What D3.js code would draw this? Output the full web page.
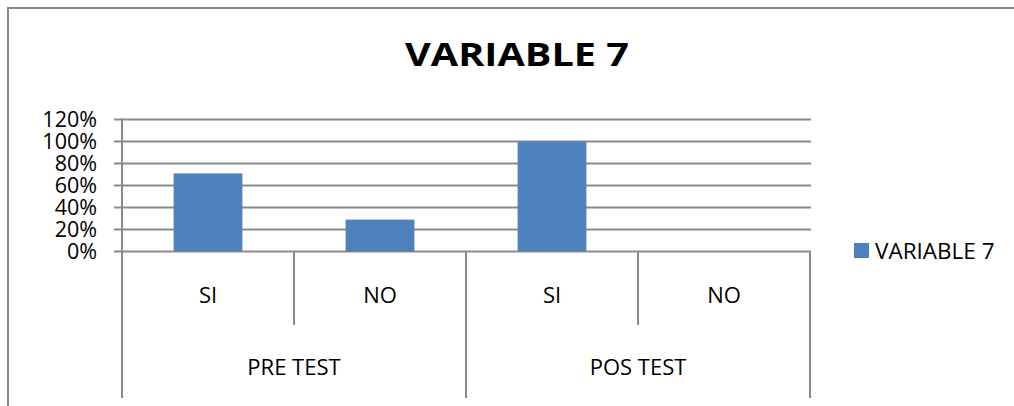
<!DOCTYPE html>
<html>
<head>
<meta charset="utf-8">
<script src="https://cdn.jsdelivr.net/npm/d3@7/dist/d3.min.js"></script>
<style>
  html, body { margin: 0; padding: 0; background: #fff; }
  svg { display: block; font-family: "Open Sans", "Noto Sans", sans-serif; }
</style>
</head>
<body>
<svg id="chart" width="1014" height="406"></svg>
<script>
const title = "VARIABLE 7";
const seriesName = "VARIABLE 7";
const groups = ["PRE TEST", "POS TEST"];
const subcategories = ["SI", "NO", "SI", "NO"];
const groupOf = [0, 0, 1, 1];
const values = [0.71, 0.29, 1.00, 0.00];
const yTicks = [0, 0.2, 0.4, 0.6, 0.8, 1.0, 1.2];

const svg = d3.select("#chart");
const W = 1014, H = 406;
const gridColor = "#8a8a8a";
const barColor = "#4f81bd";

// outer chart border (extends beyond the picture on right/bottom)
svg.append("rect")
  .attr("x", 8).attr("y", 8)
  .attr("width", W + 20).attr("height", H + 20)
  .attr("fill", "#fff").attr("stroke", "#888").attr("stroke-width", 2);

const plot = { left: 122, right: 810, top: 119.5, bottom: 251.5 };

const x = d3.scaleBand()
  .domain(d3.range(values.length))
  .range([plot.left, plot.right])
  .paddingInner(0).paddingOuter(0);

const y = d3.scaleLinear().domain([0, 1.2]).range([plot.bottom, plot.top]);

// gridlines
svg.append("g")
  .selectAll("line").data(yTicks).join("line")
  .attr("x1", plot.left - 8).attr("x2", plot.right + 1)
  .attr("y1", d => y(d)).attr("y2", d => y(d))
  .attr("stroke", gridColor).attr("stroke-width", 2);

// y axis line
svg.append("line")
  .attr("x1", plot.left).attr("x2", plot.left)
  .attr("y1", plot.top - 1).attr("y2", plot.bottom)
  .attr("stroke", gridColor).attr("stroke-width", 2);

// y tick labels
svg.append("g")
  .selectAll("text").data(yTicks).join("text")
  .attr("x", 97).attr("y", d => y(d))
  .attr("dy", "0.36em")
  .attr("text-anchor", "end")
  .attr("font-size", 21.5)
  .attr("fill", "#000")
  .text(d => d3.format(".0%")(d));

// bars
const barW = x.bandwidth() * 0.4;
svg.append("g")
  .selectAll("rect").data(values).join("rect")
  .attr("x", (d, i) => x(i) + (x.bandwidth() - barW) / 2)
  .attr("width", barW)
  .attr("y", d => y(d))
  .attr("height", d => y(0) - y(d))
  .attr("fill", barColor);

// category separators
const bounds = d3.range(values.length + 1);
svg.append("g")
  .selectAll("line").data(bounds).join("line")
  .attr("x1", i => i < values.length ? x(i) : plot.right)
  .attr("x2", i => i < values.length ? x(i) : plot.right)
  .attr("y1", plot.bottom)
  .attr("y2", i => (i % 2 === 0) ? 398 : 325)
  .attr("stroke", gridColor).attr("stroke-width", 2);

// subcategory labels
svg.append("g")
  .selectAll("text").data(subcategories).join("text")
  .attr("x", (d, i) => x(i) + x.bandwidth() / 2)
  .attr("y", 295)
  .attr("dy", "0.36em")
  .attr("text-anchor", "middle")
  .attr("font-size", 22)
  .text(d => d);

// group labels
svg.append("g")
  .selectAll("text").data(groups).join("text")
  .attr("x", (d, gi) => {
    const idx = groupOf.map((g, i) => g === gi ? i : -1).filter(i => i >= 0);
    return (x(idx[0]) + x(idx[idx.length - 1]) + x.bandwidth()) / 2;
  })
  .attr("y", 367)
  .attr("dy", "0.36em")
  .attr("text-anchor", "middle")
  .attr("font-size", 22)
  .text(d => d);

// title (stretched horizontally like the reference's wide bold font)
const titleG = svg.append("g");
const titleText = titleG.append("text")
  .attr("x", 0).attr("y", 0)
  .attr("text-anchor", "middle")
  .attr("font-size", 33)
  .attr("font-weight", "bold")
  .text(title);
const natural = titleText.node().getComputedTextLength();
const sx = 224 / natural;
titleG.attr("transform", `translate(517,66) scale(${sx},1)`);

// legend
const lg = svg.append("g");
lg.append("rect").attr("x", 854).attr("y", 243).attr("width", 15).attr("height", 15).attr("fill", barColor);
lg.append("text").attr("x", 875).attr("y", 250.5).attr("dy", "0.36em")
  .attr("font-size", 22.5).text(seriesName);
</script>
</body>
</html>
